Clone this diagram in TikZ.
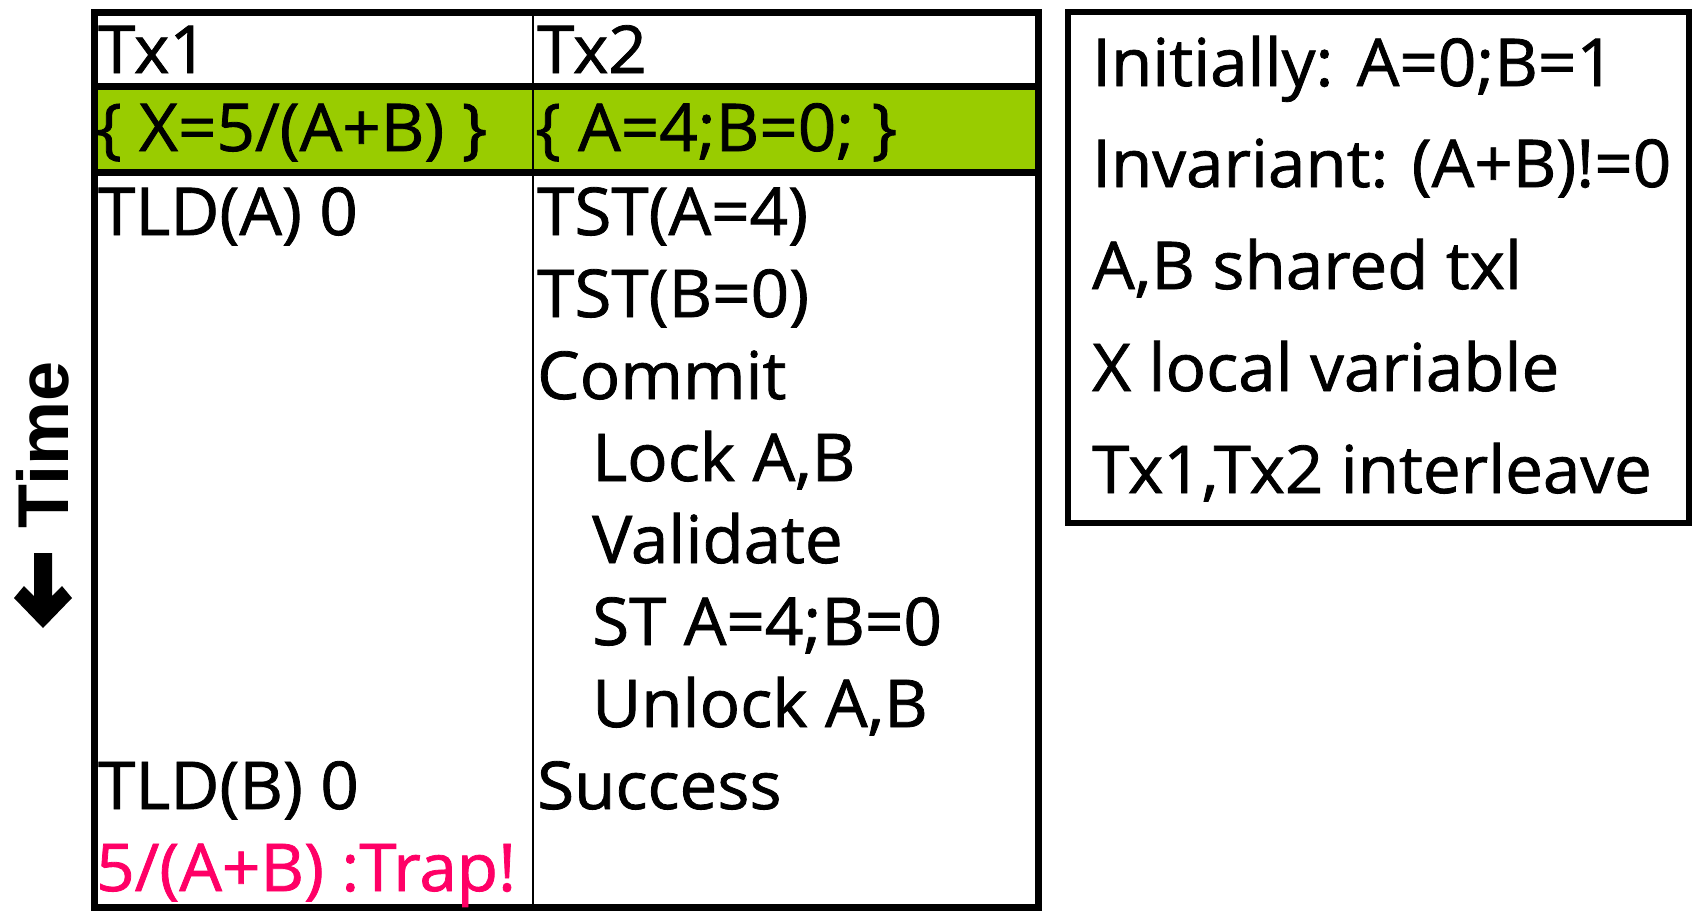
\documentclass[tikz,border=0pt]{standalone}
\usepackage{fontspec}
\setmainfont[FakeBold=1.2,FakeStretch=1.02]{Open Sans}
\newfontfamily\labelfont{Liberation Sans}
\definecolor{barGreen}{HTML}{99CC00}
\definecolor{trapRed}{HTML}{FF0066}
\begin{document}
\begin{tikzpicture}[x=1pt,y=-1pt,
  txt/.style={anchor=base west, inner sep=0pt, font=\fontsize{66}{80}\selectfont},
  thickrule/.style={line width=7pt},
  thinrule/.style={line width=2pt}]
\useasboundingbox (0,0) rectangle (1692,911);

% transaction table
\fill[barGreen] (94,86) rectangle (1038,172);
\draw[thinrule] (533,12) -- (533,907);
\draw[thickrule] (94,86) -- (1038,86);
\draw[thickrule] (94,172) -- (1038,172);
\draw[thickrule] (94,12) rectangle (1038,907);

\node[txt] (h1) at (98,73) {Tx1};
\node[txt] (h2) at (537,73) {Tx2};
\node[txt] (g1) at (96,151) {\{ X=5/(A+B) \}};
\node[txt] (g2) at (535,151) {\{ A=4;B=0; \}};

\node[txt] (a1) at (98,235) {TLD(A) 0};
\node[txt] (b1) at (537,235) {TST(A=4)};
\node[txt] (b2) at (537,317) {TST(B=0)};
\node[txt] (b3) at (537,399) {Commit};
\node[txt] (b4) at (592,481) {Lock A,B};
\node[txt] (b5) at (592,563) {Validate};
\node[txt] (b6) at (592,645) {ST A=4;B=0};
\node[txt] (b7) at (592,727) {Unlock A,B};
\node[txt] (a2) at (98,809) {TLD(B) 0};
\node[txt] (b8) at (537,809) {Success};
\node[txt, text=trapRed] (a3) at (96,891) {5/(A+B) :Trap!};

% notes box
\draw[line width=6pt] (1068,12) rectangle (1689,523);
\node[txt] (n1) at (1092,86) {Initially: A=0;B=1};
\node[txt] (n2) at (1092,187) {Invariant: (A+B)!=0};
\node[txt] (n3) at (1092,289) {A,B shared txl};
\node[txt] (n4) at (1092,391) {X local variable};
\node[txt] (n5) at (1092,493) {Tx1,Tx2 interleave};

% time axis
\node[rotate=90, inner sep=0pt, font=\labelfont\bfseries\fontsize{72}{80}\selectfont] (time) at (43,445) {Time};
\fill (34,553) -- (52,553) -- (52,596) -- (62,586) -- (72,598) -- (43,628)
      -- (14,598) -- (24,586) -- (34,596) -- cycle;
\end{tikzpicture}
\end{document}
